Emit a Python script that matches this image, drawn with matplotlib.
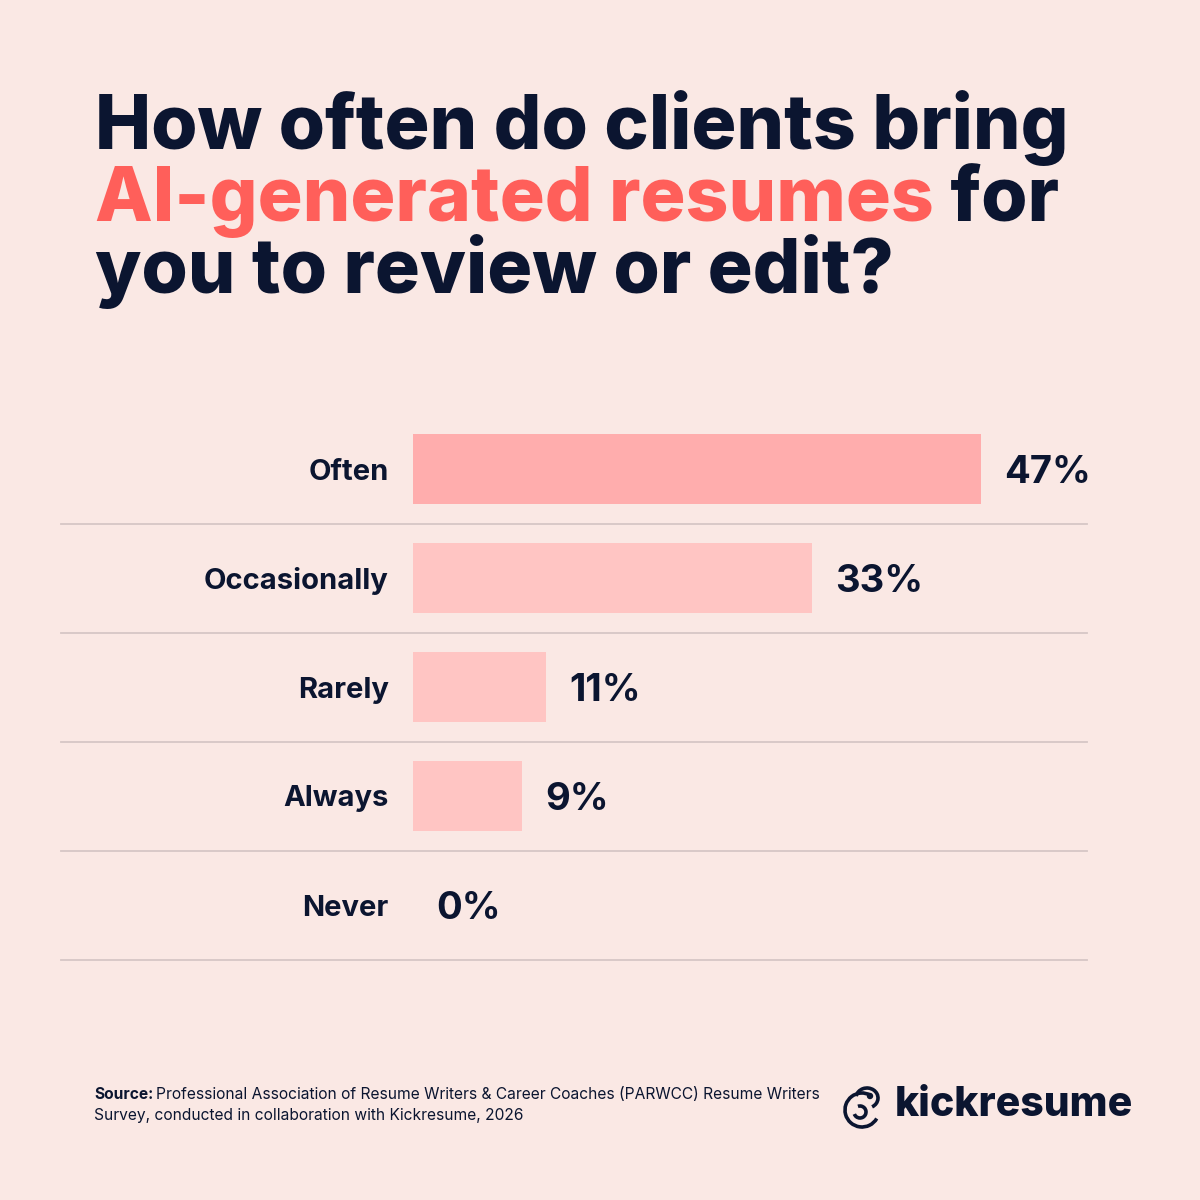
import matplotlib
matplotlib.use("Agg")
import matplotlib.pyplot as plt
from matplotlib.patches import Arc, Circle

# data
categories = ["Often", "Occasionally", "Rarely", "Always", "Never"]
values = [47, 33, 11, 9, 0]
value_labels = ["47%", "33%", "11%", "9%", "0%"]

BG = "#FAE8E4"
NAVY = "#0B1530"
CORAL = "#FF5F5A"
BAR_TOP = "#FFADAD"
BAR_REST = "#FFC5C3"
GRID = "#D6C6C5"

plt.rcParams["font.family"] = ["Inter", "DejaVu Sans"]

W = H = 1200
fig = plt.figure(figsize=(12, 12), dpi=100, facecolor=BG)


def fx(px):
    return px / W


def fy(py):
    return 1 - py / H


# title
title_kw = dict(fontsize=54, fontweight="heavy", color=NAVY, va="baseline", ha="left")
fig.text(fx(95), fy(149), "How often do clients bring", **title_kw)
t1 = fig.text(fx(95), fy(221), "AI-generated resumes", **{**title_kw, "color": CORAL})
fig.canvas.draw()
r = fig.canvas.get_renderer()
bb = t1.get_window_extent(r)
fig.text(bb.x1 / W, fy(221), " for", **title_kw)
fig.text(fx(95), fy(293), "you to review or edit?", **title_kw)

# chart axes: 0% at x=413px, 12.09 px per percent
px_per = 12.09
ax_left, ax_right = 61, 1087
ax = fig.add_axes([fx(ax_left), fy(959.5), (ax_right - ax_left) / W, 545 / H])
ax.set_facecolor(BG)
ax.set_xlim(-(413 - ax_left) / px_per, (ax_right - 413) / px_per)
ax.set_ylim(len(categories) - 0.5, -0.5)
ax.axis("off")

ypos = list(range(len(categories)))
colors = [BAR_TOP] + [BAR_REST] * (len(categories) - 1)
ax.barh(ypos, values, height=0.642, color=colors, left=0)

for y, cat, v, lab in zip(ypos, categories, values, value_labels):
    ax.text(-2.0, y, cat, ha="right", va="center_baseline", fontsize=21,
            fontweight="bold", color=NAVY)
    ax.text(v + 1.9, y, lab, ha="left", va="center_baseline", fontsize=27.5,
            fontweight="bold", color=NAVY)
    ax.axhline(y + 0.5, color=GRID, lw=1.3, clip_on=False)

# source
src_size = 11.2
fig.text(fx(94), fy(1099), "Source:", fontsize=src_size, fontweight="bold",
         color=NAVY, va="baseline", ha="left")
fig.canvas.draw()
s0 = fig.texts[-1].get_window_extent(fig.canvas.get_renderer())
fig.text(s0.x1 / W + fx(3), fy(1099),
         "Professional Association of Resume Writers & Career Coaches (PARWCC) Resume Writers",
         fontsize=src_size, color=NAVY, va="baseline", ha="left")
fig.text(fx(94), fy(1120), "Survey, conducted in collaboration with Kickresume, 2026",
         fontsize=src_size, color=NAVY, va="baseline", ha="left")

# logo
fig.text(fx(895), fy(1116), "kickresume", fontsize=29.5, fontweight="heavy",
         color=NAVY, va="baseline", ha="left")
lw = 2.6
fig.patches.append(Arc((fx(862), fy(1110)), fx(34), fx(34), theta1=60, theta2=330,
                       transform=fig.transFigure, color=NAVY, lw=lw))
fig.patches.append(Arc((fx(867), fy(1098)), fx(22), fx(20), theta1=-60, theta2=170,
                       transform=fig.transFigure, color=NAVY, lw=lw))
fig.patches.append(Arc((fx(860), fy(1112)), fx(12), fx(12), theta1=200, theta2=470,
                       transform=fig.transFigure, color=NAVY, lw=lw))
fig.patches.append(Circle((fx(870), fy(1096)), fx(2.5), transform=fig.transFigure,
                          color=NAVY))

fig.savefig("out.png", dpi=100, facecolor=BG)
